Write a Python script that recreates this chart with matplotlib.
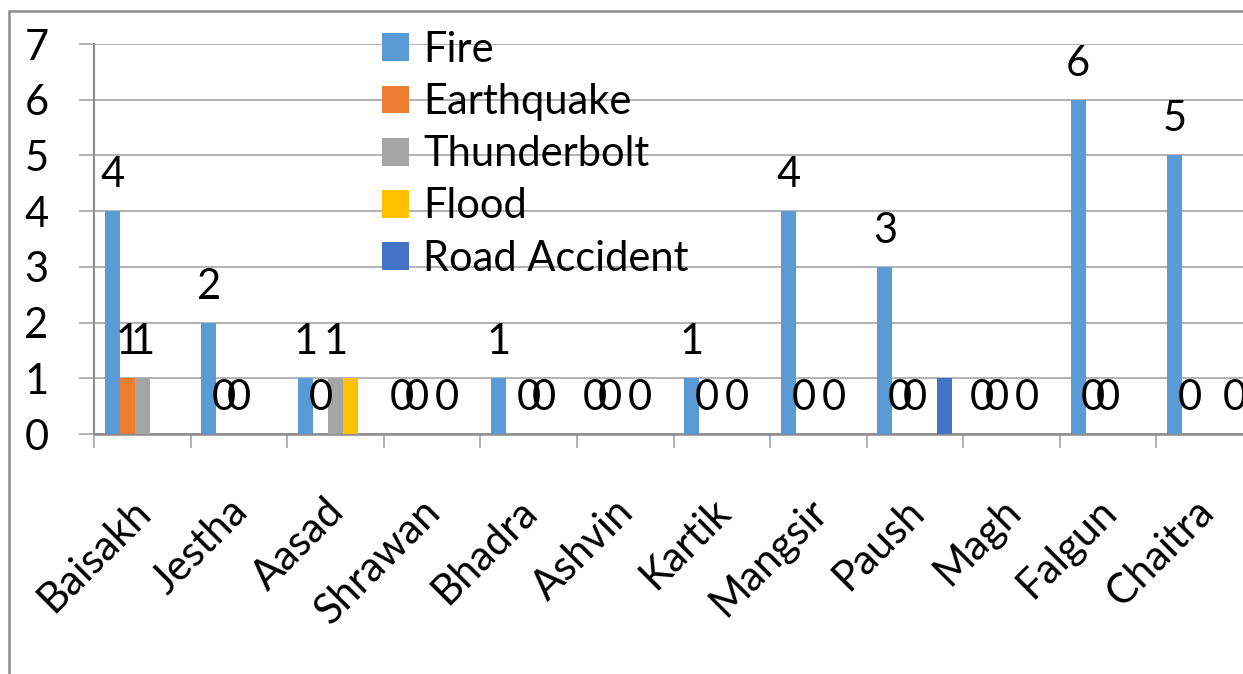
import matplotlib
matplotlib.use('Agg')
import matplotlib.pyplot as plt
import matplotlib.transforms as mtransforms
from matplotlib.patches import Rectangle
import numpy as np

# Data (None = blank cell, no bar and no label)
months = ['Baisakh', 'Jestha', 'Aasad', 'Shrawan', 'Bhadra', 'Ashvin',
          'Kartik', 'Mangsir', 'Paush', 'Magh', 'Falgun', 'Chaitra']
series_names = ['Fire', 'Earthquake', 'Thunderbolt', 'Flood', 'Road Accident']
fire = [4, 2, 1, 0, 1, 0, 1, 4, 3, 0, 6, 5]
earthquake = [1, 0, 0, 0, None, 0, 0, 0, 0, 0, 0, 0]
thunderbolt = [1, 0, 1, None, 0, None, None, None, 0, None, 0, None]
flood = [None, None, 1, 0, 0, 0, 0, 0, None, 0, None, None]
road_accident = [None, None, None, None, None, None, None, None, 1, None, None, 0]
hidden_labels = [('Flood', 'Aasad'), ('Road Accident', 'Paush')]

colors = ['#5B9BD5', '#ED7D31', '#A5A5A5', '#FFC000', '#4472C4']
all_series = [fire, earthquake, thunderbolt, flood, road_accident]

plt.rcParams['font.family'] = ['Lato', 'DejaVu Sans']
FS = 30

W, H = 1243, 674
fig = plt.figure(figsize=(W / 100, H / 100), dpi=100)
fig.patch.set_facecolor('white')
ax = fig.add_axes([94 / W, (H - 434) / H, (1253 - 94) / W, (434 - 44) / H])

x = np.arange(len(months))
bw = 15 / 96.58
handles = []
for i, (name, vals) in enumerate(zip(series_names, all_series)):
    xs = [x[j] + (i - 2) * bw for j, v in enumerate(vals) if v is not None]
    hs = [v for v in vals if v is not None]
    bars = ax.bar(xs, hs, bw, color=colors[i], label=name, zorder=3)
    handles.append(bars)
    for j, v in enumerate(vals):
        if v is None or (name, months[j]) in hidden_labels:
            continue
        ax.annotate(str(v), (x[j] + (i - 2) * bw, v), xytext=(0, 24),
                    textcoords='offset pixels', ha='center', va='baseline',
                    fontsize=FS, color='black', zorder=4, annotation_clip=False)

ax.set_xlim(-0.5, len(months) - 0.5)
ax.set_ylim(0, 7)
ax.set_yticks(range(8))
ax.yaxis.grid(True, color='#A6A6A6', linewidth=1.2, zorder=0)
ax.set_axisbelow(True)

for s in ['top', 'right']:
    ax.spines[s].set_visible(False)
ax.spines['left'].set_color('#8C8C8C')
ax.spines['bottom'].set_color('#8C8C8C')
ax.spines['left'].set_linewidth(1.5)
ax.spines['bottom'].set_linewidth(1.8)

ax.tick_params(axis='y', length=15 * 0.72, width=1.2, color='#A6A6A6',
               labelsize=FS, pad=22)
ax.set_xticks(x)
ax.set_xticks(np.arange(-0.5, len(months) + 0.5, 1), minor=True)
ax.tick_params(axis='x', which='major', length=0, labelsize=FS, pad=58 * 0.72)
ax.tick_params(axis='x', which='minor', length=14 * 0.72, width=1.2, color='#A6A6A6')
ax.set_xticklabels(months, rotation=45, ha='right', va='top', rotation_mode='anchor')
offset = mtransforms.ScaledTranslation(-11 / 100, 0, fig.dpi_scale_trans)
for lab in ax.get_xticklabels():
    lab.set_transform(lab.get_transform() + offset)

ax.legend(handles=handles, labels=series_names, loc='upper left',
          bbox_to_anchor=(382 / W, (H - 31) / H), bbox_transform=fig.transFigure,
          frameon=False, fontsize=FS, handlelength=0.65, handleheight=0.65,
          handletextpad=0.34, labelspacing=0.34, borderpad=0, borderaxespad=0)

# chart area border (cut by the image edge on the right and bottom)
fig.patches.append(Rectangle((9 / W, -0.1), 2, (H - 11) / H + 0.1,
                             transform=fig.transFigure, fill=False,
                             edgecolor='#8C8C8C', linewidth=1.8))

fig.savefig('out.png', dpi=100)
